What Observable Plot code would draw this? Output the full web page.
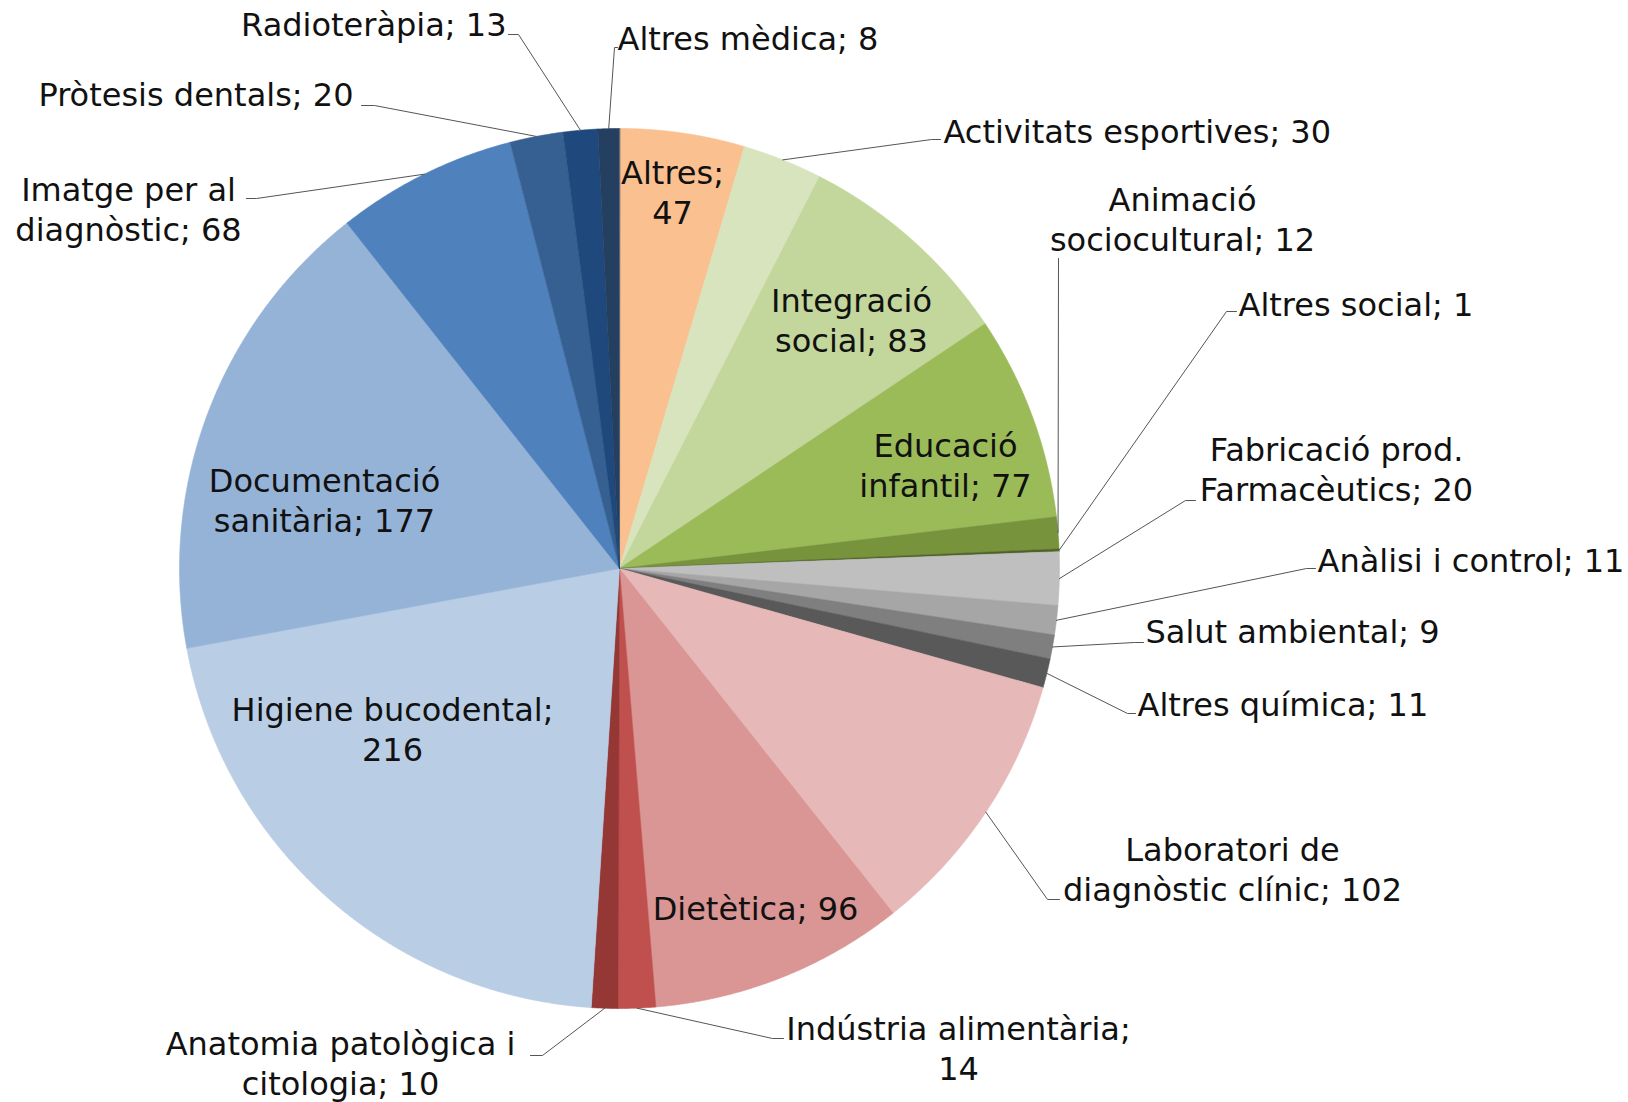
<!DOCTYPE html>
<html><head><meta charset="utf-8">
<script src="https://cdn.jsdelivr.net/npm/d3@7"></script>
<script src="https://cdn.jsdelivr.net/npm/@observablehq/plot@0.6"></script>
<style>body{margin:0;background:#fff}</style>
</head><body><div id="chart"></div>
<script>
// ---- data ----
const categories = [
  "Altres", "Activitats esportives", "Integració social", "Educació infantil",
  "Animació sociocultural", "Altres social", "Fabricació prod. Farmacèutics",
  "Anàlisi i control", "Salut ambiental", "Altres química",
  "Laboratori de diagnòstic clínic", "Dietètica", "Indústria alimentària",
  "Anatomia patològica i citologia", "Higiene bucodental", "Documentació sanitària",
  "Imatge per al diagnòstic", "Pròtesis dentals", "Radioteràpia", "Altres mèdica"
];
const values = [47, 30, 83, 77, 12, 1, 20, 11, 9, 11, 102, 96, 14, 10, 216, 177, 68, 20, 13, 8];
const colors = [
  "#FAC090", "#D7E4BD", "#C3D69B", "#9BBB59", "#77933C", "#4F6228", "#BFBFBF",
  "#A6A6A6", "#7F7F7F", "#595959", "#E6B9B8", "#D99694", "#C0504D", "#953735",
  "#B9CDE5", "#95B3D7", "#4F81BD", "#376092", "#1F497D", "#243F60"
];

// ---- layout (pixel positions of labels, line-break word index, leader path) ----
const layout = [
  {br:1, anchor:"middle", x:672, y:191},
  {br:0, anchor:"start", x:943, y:130, leader:[[931,139],[940,139]]},
  {br:1, anchor:"middle", x:851, y:319},
  {br:1, anchor:"middle", x:945, y:464},
  {br:1, anchor:"middle", x:1182, y:218, leader:[[1058,258]]},
  {br:0, anchor:"start", x:1238, y:303, leader:[[1226,311],[1236,311]]},
  {br:2, anchor:"middle", x:1336, y:468, leader:[[1185,500],[1195,500]]},
  {br:0, anchor:"start", x:1317, y:559, leader:[[1306,568],[1315,568]]},
  {br:0, anchor:"start", x:1145, y:630, leader:[[1134,642],[1143,642]]},
  {br:0, anchor:"start", x:1137, y:703, leader:[[1127,713],[1135,713]]},
  {br:2, anchor:"middle", x:1232, y:868, leader:[[1047,899],[1059,899]]},
  {br:0, anchor:"middle", x:755, y:907},
  {br:2, anchor:"middle", x:958, y:1047, leader:[[772,1038],[783,1038]]},
  {br:3, anchor:"middle", x:340, y:1062, leader:[[542,1055],[530,1055]]},
  {br:2, anchor:"middle", x:392, y:728},
  {br:1, anchor:"middle", x:324, y:499},
  {br:3, anchor:"middle", x:128, y:208, leader:[[256,198],[246,198]]},
  {br:0, anchor:"end", x:353, y:93, leader:[[374,105],[361,105]]},
  {br:0, anchor:"end", x:506, y:23, leader:[[518,34],[508,34]]},
  {br:0, anchor:"start", x:617, y:37, leader:[[614,47],[617,47]]}
];

const W = 1628, H = 1102, cx = 619, cy = 568, R = 440;
const toX = px => (px - cx) / R;
const toY = py => (cy - py) / R;

const arcs = d3.pie().sort(null)(values);

const slicePts = [];
arcs.forEach((p, i) => {
  const name = categories[i];
  const n = Math.max(2, Math.ceil((p.endAngle - p.startAngle) / 0.004));
  slicePts.push({name, x: 0, y: 0});
  for (let k = 0; k <= n; k++) {
    const a = p.startAngle + (p.endAngle - p.startAngle) * k / n;
    slicePts.push({name, x: Math.sin(a), y: Math.cos(a)});
  }
});

function wrap(s, br) {
  if (!br) return s;
  let count = 0;
  return s.replace(/ /g, m => (++count === br ? "\n" : m));
}

const labels = arcs.map((p, i) => ({
  name: categories[i],
  text: wrap(`${categories[i]}; ${values[i]}`, layout[i].br),
  anchor: layout[i].anchor,
  x: toX(layout[i].x),
  y: toY(layout[i].y)
}));

const leaderPts = [];
arcs.forEach((p, i) => {
  const L = layout[i].leader;
  if (!L) return;
  const m = (p.startAngle + p.endAngle) / 2;
  leaderPts.push({name: categories[i], x: Math.sin(m), y: Math.cos(m)});
  L.forEach(([px, py]) => leaderPts.push({name: categories[i], x: toX(px), y: toY(py)}));
});

const font = "'DejaVu Sans', sans-serif";
const textOpts = a => ({
  x: "x", y: "y", text: "text", textAnchor: a, fontSize: 32, lineHeight: 1.23,
  fill: "#111", fontFamily: font
});

const chart = Plot.plot({
  width: W, height: H,
  margin: 0,
  x: {domain: [-1, 1], range: [cx - R, cx + R], axis: null},
  y: {domain: [-1, 1], range: [cy + R, cy - R], axis: null},
  color: {domain: categories, range: colors},
  style: {background: "#fff", fontFamily: font},
  marks: [
    Plot.line(slicePts, {x: "x", y: "y", z: "name", fill: "name", stroke: "name", strokeWidth: 0.6, curve: "linear-closed"}),
    Plot.line(leaderPts, {x: "x", y: "y", z: "name", stroke: "#555", strokeWidth: 1}),
    Plot.text(labels.filter(d => d.anchor === "start"), textOpts("start")),
    Plot.text(labels.filter(d => d.anchor === "middle"), textOpts("middle")),
    Plot.text(labels.filter(d => d.anchor === "end"), textOpts("end"))
  ]
});
document.getElementById("chart").appendChild(chart);
</script>
</body></html>
